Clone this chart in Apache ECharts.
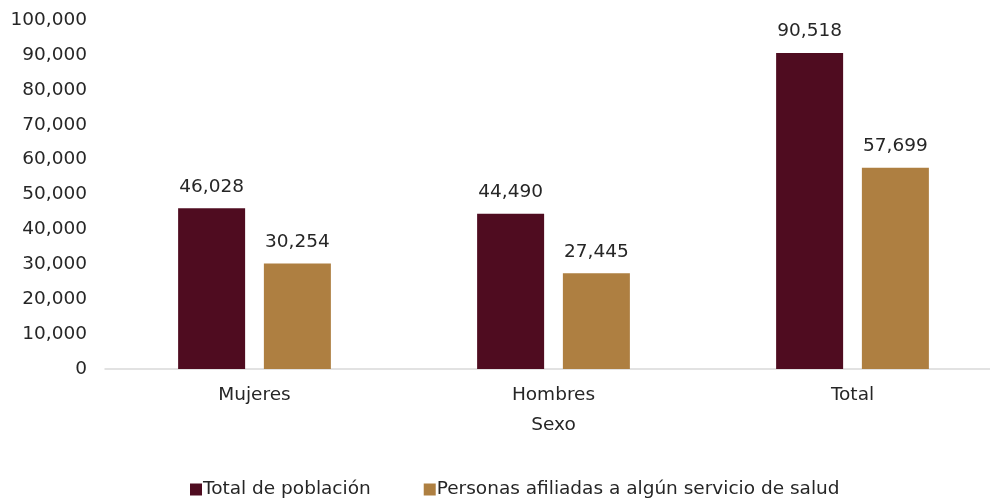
<!DOCTYPE html>
<html>
<head>
<meta charset="utf-8">
<script src="https://cdn.jsdelivr.net/npm/echarts@6/dist/echarts.min.js"></script>
<style>html,body{margin:0;padding:0;background:#fff;overflow:hidden;width:990px;height:499px;}#c{width:1002px;height:499px;}</style>
</head>
<body>
<div id="c"></div>
<script>
const categories = ['Mujeres', 'Hombres', 'Total'];
const totalPoblacion = [46028, 44490, 90518];
const afiliadas = [30254, 27445, 57699];
const seriesNames = ['Total de población', 'Personas afiliadas a algún servicio de salud'];
const xAxisName = 'Sexo';

const FONT = "'DejaVu Sans', Verdana, sans-serif";
const FS = 18.5;
const TXT = '#262626';
const chart = echarts.init(document.getElementById('c'), null, {renderer: 'canvas'});
const fmt = v => v.toLocaleString('en-US');
chart.setOption({
  animation: false,
  textStyle: {fontFamily: FONT},
  grid: {left: 105, right: 0, top: 20, height: 349, containLabel: false},
  legend: {
    top: 475, left: 185,
    itemWidth: 12, itemHeight: 12, itemGap: 53,
    icon: 'rect',
    textStyle: {fontFamily: FONT, fontSize: FS, color: TXT, padding: [0, 0, 0, -4]},
    data: seriesNames
  },
  xAxis: {
    type: 'category', data: categories,
    name: xAxisName, nameLocation: 'middle', nameGap: 47,
    nameTextStyle: {fontFamily: FONT, fontSize: FS, color: TXT},
    axisLine: {lineStyle: {color: '#d9d9d9', width: 1.5}},
    axisTick: {show: false},
    axisLabel: {fontFamily: FONT, fontSize: FS, color: TXT, margin: 17}
  },
  yAxis: {
    type: 'value', min: 0, max: 100000, interval: 10000,
    splitLine: {show: false},
    axisLine: {show: false}, axisTick: {show: false},
    axisLabel: {fontFamily: FONT, fontSize: FS, color: TXT, margin: 18, formatter: fmt}
  },
  series: [
    {
      name: seriesNames[0], type: 'bar', data: totalPoblacion,
      barWidth: 67, barGap: '28%',
      itemStyle: {color: '#4f0c20'},
      label: {show: true, position: 'top', distance: 12, fontFamily: FONT, fontSize: FS, color: TXT, formatter: p => fmt(p.value)}
    },
    {
      name: seriesNames[1], type: 'bar', data: afiliadas,
      barWidth: 67, barGap: '28%',
      itemStyle: {color: '#ae7f41'},
      label: {show: true, position: 'top', distance: 12, fontFamily: FONT, fontSize: FS, color: TXT, formatter: p => fmt(p.value)}
    }
  ]
});
</script>
</body>
</html>
